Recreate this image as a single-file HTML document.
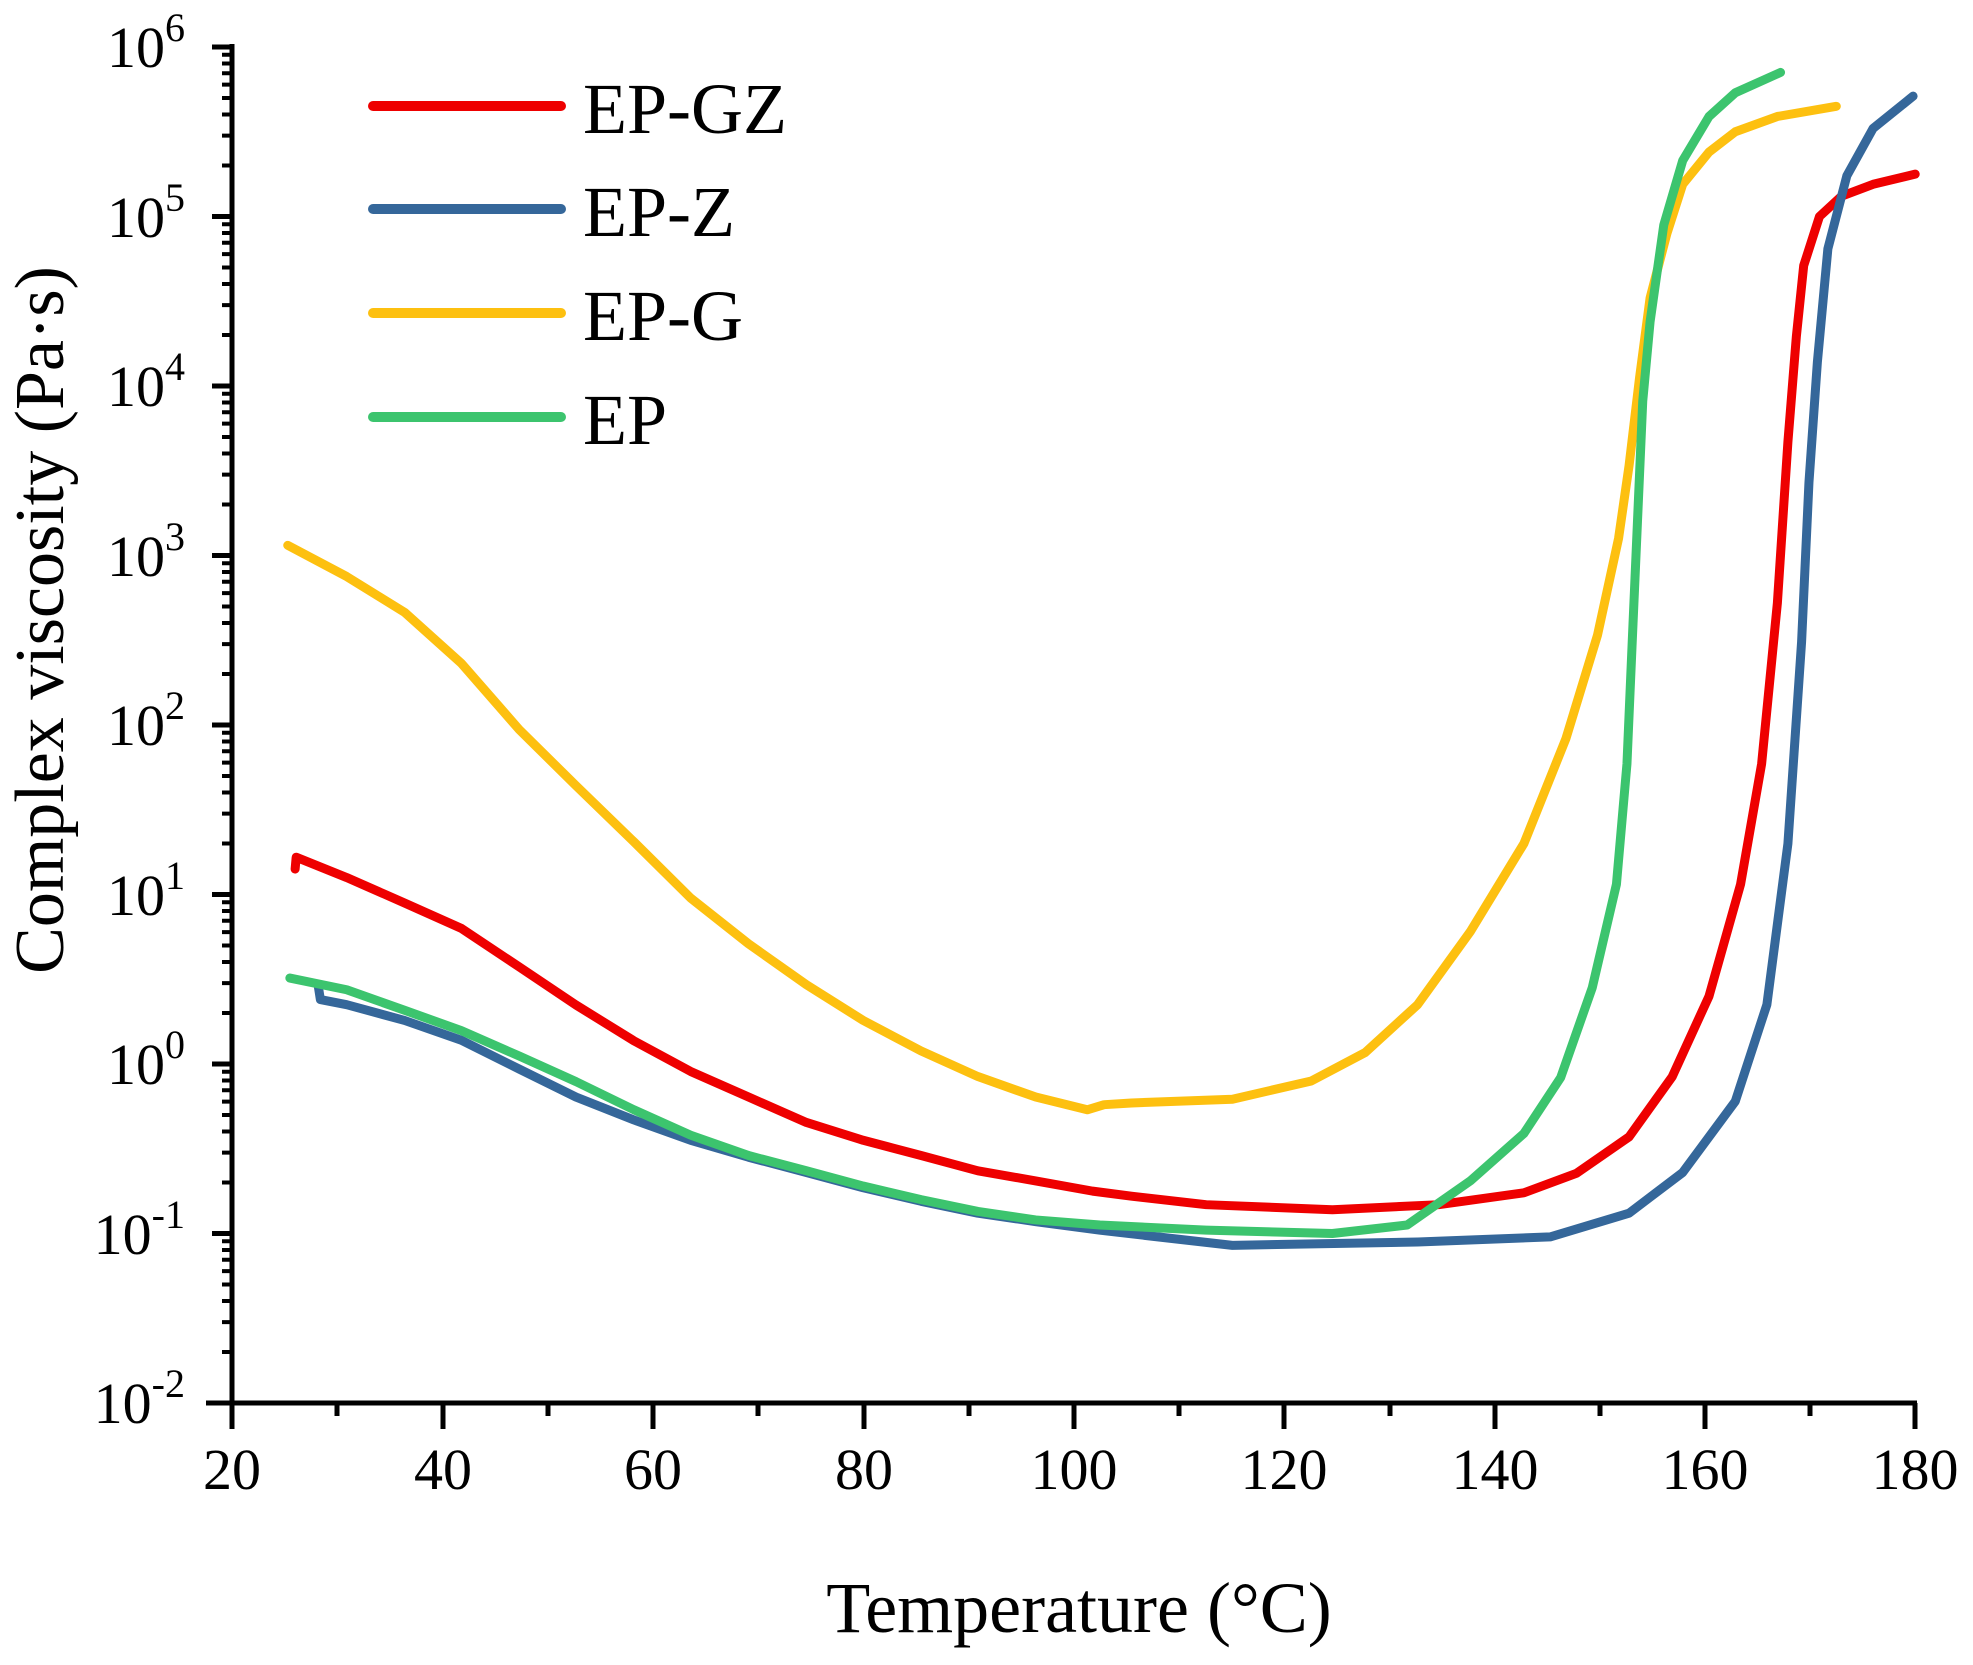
<!DOCTYPE html>
<html><head><meta charset="utf-8"><style>
html,body{margin:0;padding:0;background:#fff;}
svg{display:block;}
text{font-family:"Liberation Serif",serif;fill:#000;}
</style></head><body>
<svg width="1973" height="1665" viewBox="0 0 1973 1665" xmlns="http://www.w3.org/2000/svg">
<rect width="1973" height="1665" fill="#fff"/>
<g stroke="#000" stroke-width="5" fill="none">
<path d="M232 44V1429M206 1403H1917"/>
<path d="M232 1403V1429M443 1403V1429M653 1403V1429M864 1403V1429M1074 1403V1429M1284 1403V1429M1495 1403V1429M1705 1403V1429M1915 1403V1429"/>
<path d="M337 1403V1416M548 1403V1416M758 1403V1416M969 1403V1416M1179 1403V1416M1390 1403V1416M1600 1403V1416M1810 1403V1416"/>
</g>
<g transform="matrix(10.52 0 0 -169.5 21.6 1064)" fill="none">
<path stroke="#000" stroke-width="5" vector-effect="non-scaling-stroke" d="M18.1 6H20M18.1 5H20M18.1 4H20M18.1 3H20M18.1 2H20M18.1 1H20M18.1 0H20M18.1 -1H20M18.1 -2H20"/>
<path stroke="#000" stroke-width="4" vector-effect="non-scaling-stroke" d="
M19.05 5.301H20M19.05 5.477H20M19.05 5.602H20M19.05 5.699H20M19.05 5.778H20M19.05 5.845H20M19.05 5.903H20M19.05 5.954H20
M19.05 4.301H20M19.05 4.477H20M19.05 4.602H20M19.05 4.699H20M19.05 4.778H20M19.05 4.845H20M19.05 4.903H20M19.05 4.954H20
M19.05 3.301H20M19.05 3.477H20M19.05 3.602H20M19.05 3.699H20M19.05 3.778H20M19.05 3.845H20M19.05 3.903H20M19.05 3.954H20
M19.05 2.301H20M19.05 2.477H20M19.05 2.602H20M19.05 2.699H20M19.05 2.778H20M19.05 2.845H20M19.05 2.903H20M19.05 2.954H20
M19.05 1.301H20M19.05 1.477H20M19.05 1.602H20M19.05 1.699H20M19.05 1.778H20M19.05 1.845H20M19.05 1.903H20M19.05 1.954H20
M19.05 0.301H20M19.05 0.477H20M19.05 0.602H20M19.05 0.699H20M19.05 0.778H20M19.05 0.845H20M19.05 0.903H20M19.05 0.954H20
M19.05 -0.699H20M19.05 -0.523H20M19.05 -0.398H20M19.05 -0.301H20M19.05 -0.222H20M19.05 -0.155H20M19.05 -0.097H20M19.05 -0.046H20
M19.05 -1.699H20M19.05 -1.523H20M19.05 -1.398H20M19.05 -1.301H20M19.05 -1.222H20M19.05 -1.155H20M19.05 -1.097H20M19.05 -1.046H20"/>
<g stroke-width="9" stroke-linejoin="round" stroke-linecap="round">
<path stroke="#fdc010" vector-effect="non-scaling-stroke" d="M25.3 3.06L30.9 2.876L36.4 2.665L41.8 2.364L47.3 1.973L52.7 1.642L58.2 1.311L63.6 0.979L69.1 0.709L74.6 0.468L80 0.257L85.5 0.077L90.9 -0.074L96.4 -0.195L101.3 -0.27L102.9 -0.24L105.5 -0.23L115.1 -0.208L122.6 -0.1L127.7 0.067L132.7 0.35L137.7 0.78L142.8 1.3L146.8 1.92L149.8 2.53L151.8 3.1L152.8 3.53L153.8 4.05L154.8 4.52L156.4 4.9L157.9 5.19L160.4 5.38L162.9 5.5L166.9 5.59L172.5 5.65"/>
<path stroke="#ee0000" vector-effect="non-scaling-stroke" d="M26 1.15L26.1 1.22L30.9 1.1L36.4 0.95L41.8 0.8L47.3 0.573L52.7 0.348L58.2 0.137L63.6 -0.044L69.1 -0.195L74.6 -0.345L80 -0.45L85.5 -0.54L90.9 -0.63L96.4 -0.69L101.8 -0.75L105.5 -0.78L112.6 -0.83L124.6 -0.86L134.7 -0.83L142.8 -0.76L147.8 -0.645L152.8 -0.43L156.9 -0.075L160.4 0.4L163.4 1.06L165.4 1.77L166.9 2.72L167.9 3.67L168.7 4.29L169.4 4.71L170.9 5.0L173 5.12L176 5.19L180 5.25"/>
<path stroke="#35679a" vector-effect="non-scaling-stroke" d="M28.2 0.46L28.4 0.38L30.9 0.35L36.4 0.257L41.8 0.14L47.3 -0.03L52.7 -0.195L58.2 -0.33L63.6 -0.45L69.1 -0.55L74.6 -0.64L80 -0.73L85.5 -0.81L90.9 -0.88L96.4 -0.93L102.5 -0.98L108 -1.02L115.1 -1.07L132.7 -1.05L145.3 -1.02L152.8 -0.88L157.9 -0.64L162.9 -0.22L165.9 0.35L167.9 1.3L169.2 2.49L169.9 3.43L170.7 4.14L171.7 4.81L173.5 5.24L176 5.52L179.8 5.71"/>
<path stroke="#3cc46e" vector-effect="non-scaling-stroke" d="M25.5 0.507L30.9 0.438L36.4 0.317L41.8 0.197L47.3 0.047L52.7 -0.104L58.2 -0.27L63.6 -0.42L69.1 -0.54L74.6 -0.63L80 -0.72L85.5 -0.8L90.9 -0.87L96.4 -0.92L102.5 -0.95L112.6 -0.98L124.6 -1.0L131.7 -0.95L137.7 -0.69L142.8 -0.41L146.3 -0.08L149.3 0.45L151.6 1.06L152.6 1.77L153.1 2.49L153.6 3.2L154.1 3.91L154.8 4.38L156.1 4.95L157.9 5.33L160.4 5.59L162.9 5.73L167.2 5.85"/>
</g>
</g>
<g font-size="58" text-anchor="end">
<text x="185" y="67">10<tspan font-size="40" dy="-26">6</tspan></text>
<text x="185" y="237">10<tspan font-size="40" dy="-26">5</tspan></text>
<text x="185" y="406">10<tspan font-size="40" dy="-26">4</tspan></text>
<text x="185" y="576">10<tspan font-size="40" dy="-26">3</tspan></text>
<text x="185" y="745">10<tspan font-size="40" dy="-26">2</tspan></text>
<text x="185" y="915">10<tspan font-size="40" dy="-26">1</tspan></text>
<text x="185" y="1084">10<tspan font-size="40" dy="-26">0</tspan></text>
<text x="185" y="1254">10<tspan font-size="40" dy="-26">-1</tspan></text>
<text x="185" y="1423">10<tspan font-size="40" dy="-26">-2</tspan></text>
</g>
<g font-size="58" text-anchor="middle">
<text x="232" y="1489">20</text><text x="443" y="1489">40</text><text x="653" y="1489">60</text>
<text x="864" y="1489">80</text><text x="1074" y="1489">100</text><text x="1284" y="1489">120</text>
<text x="1495" y="1489">140</text><text x="1705" y="1489">160</text><text x="1915" y="1489">180</text>
</g>
<text x="1079" y="1632" font-size="72" text-anchor="middle">Temperature (°C)</text>
<text transform="translate(63 620) rotate(-90)" font-size="70" text-anchor="middle">Complex viscosity (Pa·s)</text>
<g stroke-width="10" stroke-linecap="round">
<line x1="373" y1="106" x2="561" y2="106" stroke="#ee0000"/>
<line x1="373" y1="209" x2="561" y2="209" stroke="#35679a"/>
<line x1="373" y1="313" x2="561" y2="313" stroke="#fdc010"/>
<line x1="373" y1="417" x2="561" y2="417" stroke="#3cc46e"/>
</g>
<g font-size="72">
<text x="583" y="133">EP-GZ</text>
<text x="583" y="236">EP-Z</text>
<text x="583" y="340">EP-G</text>
<text x="583" y="444">EP</text>
</g>
</svg>
</body></html>
